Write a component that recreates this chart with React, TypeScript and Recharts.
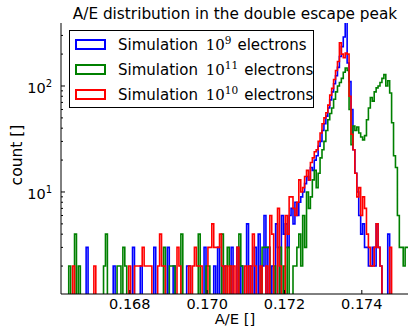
import React from 'react'
import { LineChart, Line, XAxis, YAxis, Legend, Customized } from 'recharts'

// histogram bins: 180 bins of width 5e-5 starting at 0.16622
const binStart = 0.16622
const binWidth = 0.00005

// counts per bin (rows of 20 bins)
const blueCounts = [
  0, 0, 0, 0, 0, 0, 0, 0, 0, 0, 0, 0, 0, 3, 0, 0, 0, 0, 0, 0,
  0, 0, 0, 0, 0, 0, 0, 2, 0, 0, 0, 0, 0, 0, 0, 0, 0, 3, 0, 0,
  0, 2, 0, 0, 0, 0, 0, 0, 3, 0, 0, 0, 0, 0, 0, 3, 0, 0, 2, 0,
  0, 0, 0, 0, 0, 2, 2, 0, 0, 0, 0, 0, 0, 0, 3, 0, 0, 0, 0, 2,
  0, 3, 0, 0, 2, 0, 0, 0, 3, 0, 0, 3, 0, 2, 0, 0, 5, 0, 2, 0,
  3, 0, 4, 0, 2, 6, 0, 3, 0, 2, 0, 5, 3, 0, 6, 4, 5, 3, 6, 7,
  5, 8, 6, 8, 9, 10, 12, 14, 13, 17, 16, 20, 22, 27, 30, 38, 44, 52, 62, 74,
  88, 105, 125, 150, 190, 235, 290, 420, 165, 110, 60, 25, 15, 10, 6, 4, 5, 3, 3, 2,
  2, 3, 2, 5, 3, 2, 0, 0, 0, 4, 0, 0, 0, 0, 0, 0, 0, 0, 0, 0,
]

const greenCounts = [
  0, 0, 0, 0, 2, 0, 0, 4, 0, 2, 0, 0, 0, 0, 0, 0, 0, 0, 0, 0,
  0, 0, 2, 4, 0, 0, 0, 0, 0, 2, 2, 0, 3, 2, 0, 0, 0, 0, 0, 0,
  0, 0, 0, 0, 0, 0, 0, 0, 0, 0, 0, 0, 0, 3, 0, 0, 2, 2, 2, 0,
  0, 0, 4, 0, 0, 0, 0, 0, 0, 0, 0, 4, 0, 0, 0, 2, 2, 0, 0, 0,
  0, 0, 0, 4, 0, 0, 3, 2, 0, 0, 0, 0, 4, 2, 0, 0, 0, 0, 0, 0,
  0, 0, 0, 0, 3, 3, 3, 3, 0, 0, 2, 0, 0, 3, 0, 2, 0, 3, 0, 0,
  2, 2, 3, 4, 2, 6, 3, 10, 7, 9, 13, 16, 11, 15, 21, 25, 30, 38, 48, 55,
  62, 75, 88, 100, 108, 118, 135, 148, 140, 60, 28, 42, 38, 41, 36, 33, 31, 34, 48, 62,
  78, 72, 88, 96, 100, 108, 118, 128, 100, 112, 86, 45, 22, 17, 6, 3, 3, 2, 3, 3,
]

const redCounts = [
  0, 0, 0, 0, 0, 0, 2, 0, 0, 0, 0, 0, 0, 0, 0, 0, 0, 2, 0, 0,
  0, 0, 0, 0, 0, 0, 0, 0, 0, 0, 0, 0, 0, 0, 0, 2, 0, 0, 2, 2,
  2, 2, 3, 2, 2, 2, 2, 0, 0, 0, 2, 4, 2, 2, 0, 0, 0, 0, 0, 0,
  3, 2, 0, 0, 0, 0, 2, 0, 2, 3, 2, 2, 2, 0, 0, 0, 3, 3, 5, 3,
  3, 3, 4, 2, 0, 2, 0, 2, 0, 2, 0, 3, 0, 0, 0, 2, 0, 2, 0, 4,
  2, 0, 0, 2, 0, 0, 2, 0, 6, 4, 0, 0, 7, 2, 0, 0, 6, 4, 9, 9,
  7, 6, 8, 13, 10, 11, 14, 16, 13, 19, 21, 24, 25, 30, 36, 44, 50, 56, 66, 82,
  95, 115, 140, 170, 255, 200, 185, 205, 200, 80, 35, 25, 15, 9, 11, 6, 9, 7, 4, 3,
  2, 2, 3, 5, 3, 2, 0, 0, 0, 0, 3, 0, 0, 0, 0, 0, 0, 0, 0, 0,
]

const xTicks = [0.168, 0.17, 0.172, 0.174]
const yTicks = [2, 3, 4, 5, 6, 7, 8, 9, 10, 20, 30, 40, 50, 60, 70, 80, 90, 100, 200, 300]
const yMajor = [10, 100]

const series = [
  { key: 'blue', exp: '9', color: '#0000ff', counts: blueCounts },
  { key: 'green', exp: '11', color: '#008000', counts: greenCounts },
  { key: 'red', exp: '10', color: '#ff0000', counts: redCounts },
]

// empty bins sit below the log axis and get clipped
const FLOOR = 0.5

const data = blueCounts.map((_, i) => {
  const row: Record<string, number> = { x: binStart + i * binWidth }
  series.forEach((s) => (row[s.key] = s.counts[i] || FLOOR))
  return row
})
const lastRow: Record<string, number> = { x: binStart + blueCounts.length * binWidth }
series.forEach((s) => (lastRow[s.key] = s.counts[s.counts.length - 1] || FLOOR))
data.push(lastRow)

const FONT = '"DejaVu Sans", sans-serif'
const W = 409
const H = 327
const PLOT_LEFT = 61
const PLOT_RIGHT = W
const PLOT_TOP = 23
const PLOT_BOTTOM = 294

function BottomTick({ x, payload }: any) {
  return (
    <g>
      <line x1={x} x2={x} y1={PLOT_BOTTOM} y2={PLOT_BOTTOM - 4} stroke="#000" />
      <text x={x} y={PLOT_BOTTOM + 15} textAnchor="middle" fontSize={14.5} fontFamily={FONT} fill="#000">
        {Number(payload.value).toFixed(3)}
      </text>
    </g>
  )
}

function TopTick({ x }: any) {
  return <line x1={x} x2={x} y1={PLOT_TOP} y2={PLOT_TOP + 4} stroke="#000" />
}

function LeftTick({ y, payload }: any) {
  const v = payload.value
  const major = yMajor.includes(v)
  return (
    <g>
      <line x1={PLOT_LEFT} x2={PLOT_LEFT + (major ? 4 : 2)} y1={y} y2={y} stroke="#000" />
      {major && (
        <text x={PLOT_LEFT - 9} y={y + 7} textAnchor="end" fontSize={14.5} fontFamily={FONT} fill="#000">
          <tspan>10</tspan>
          <tspan dy={-6} fontSize={10}>{Math.round(Math.log10(v))}</tspan>
        </text>
      )}
    </g>
  )
}

function RightTick({ y, payload }: any) {
  const major = yMajor.includes(payload.value)
  return <line x1={PLOT_RIGHT - (major ? 4 : 2)} x2={PLOT_RIGHT} y1={y} y2={y} stroke="#000" />
}

function LegendBox({ payload }: any) {
  return (
    <div
      style={{
        width: 245,
        height: 78,
        border: '1px solid #000',
        background: '#fff',
        boxSizing: 'border-box',
        position: 'relative',
        fontFamily: FONT,
        fontSize: 15,
        color: '#000',
      }}
    >
      {(payload || []).map((entry: any, k: number) => {
        const s = series.find((d) => d.key === entry.dataKey)
        const cy = 14 + k * 25
        return (
          <div key={k}>
            <div
              style={{
                position: 'absolute',
                left: 5,
                top: cy - 6,
                width: 31,
                height: 11,
                border: `2px solid ${entry.color}`,
                boxSizing: 'border-box',
              }}
            />
            <div style={{ position: 'absolute', left: 48, top: cy - 10, height: 20, lineHeight: '20px', whiteSpace: 'nowrap' }}>
              Simulation{' '}
              <span style={{ fontFamily: '"DejaVu Serif", serif', marginLeft: 3 }}>
                10
                <span style={{ fontSize: 10.5, position: 'relative', top: -6 }}>{s?.exp}</span>
              </span>
              <span style={{ marginLeft: 6 }}>electrons</span>
            </div>
          </div>
        )
      })}
    </div>
  )
}

function Texts() {
  return (
    <g fontFamily={FONT} fill="#000">
      <text x={(PLOT_LEFT + PLOT_RIGHT) / 2} y={18.5} textAnchor="middle" fontSize={15.3}>
        A/E distribution in the double escape peak
      </text>
      <text x={(PLOT_LEFT + PLOT_RIGHT) / 2} y={324} textAnchor="middle" fontSize={14.8}>
        A/E []
      </text>
      <text x={22} y={155} textAnchor="middle" fontSize={15.5} transform="rotate(-90 22 155)">
        count []
      </text>
    </g>
  )
}

export default function App() {
  return (
    <div style={{ position: 'absolute', left: 0, top: 0, width: 408, height: 327, overflow: 'hidden', background: '#fff' }}>
      <LineChart width={W} height={H} data={data} margin={{ top: PLOT_TOP, right: 0, bottom: 0, left: 0 }}>
        <XAxis
          dataKey="x"
          type="number"
          domain={[binStart, binStart + blueCounts.length * binWidth]}
          allowDataOverflow
          ticks={xTicks}
          height={H - PLOT_BOTTOM}
          tickLine={false}
          tick={<BottomTick />}
          axisLine={{ stroke: '#000' }}
          interval={0}
        />
        <XAxis
          xAxisId="top"
          dataKey="x"
          type="number"
          orientation="top"
          domain={[binStart, binStart + blueCounts.length * binWidth]}
          allowDataOverflow
          ticks={xTicks}
          height={0}
          tickLine={false}
          tick={<TopTick />}
          axisLine={{ stroke: '#000' }}
          interval={0}
        />
        <YAxis
          scale="log"
          type="number"
          domain={[1.09, 393]}
          allowDataOverflow
          ticks={yTicks}
          width={PLOT_LEFT}
          tickLine={false}
          tick={<LeftTick />}
          axisLine={{ stroke: '#000' }}
          interval={0}
        />
        <YAxis
          yAxisId="right"
          orientation="right"
          scale="log"
          type="number"
          domain={[1.09, 393]}
          allowDataOverflow
          ticks={yTicks}
          width={0}
          tickLine={false}
          tick={<RightTick />}
          axisLine={{ stroke: '#000' }}
          interval={0}
        />
        {series.map((s) => (
          <Line
            key={s.key}
            dataKey={s.key}
            name={s.key}
            type="stepAfter"
            stroke={s.color}
            strokeWidth={1.6}
            dot={false}
            activeDot={false}
            isAnimationActive={false}
          />
        ))}
        <Legend
          layout="horizontal"
          verticalAlign="middle"
          align="center"
          content={<LegendBox />}
          wrapperStyle={{ left: 69, top: 30, width: 245, height: 78 }}
        />
        <Customized component={Texts} />
      </LineChart>
    </div>
  )
}
